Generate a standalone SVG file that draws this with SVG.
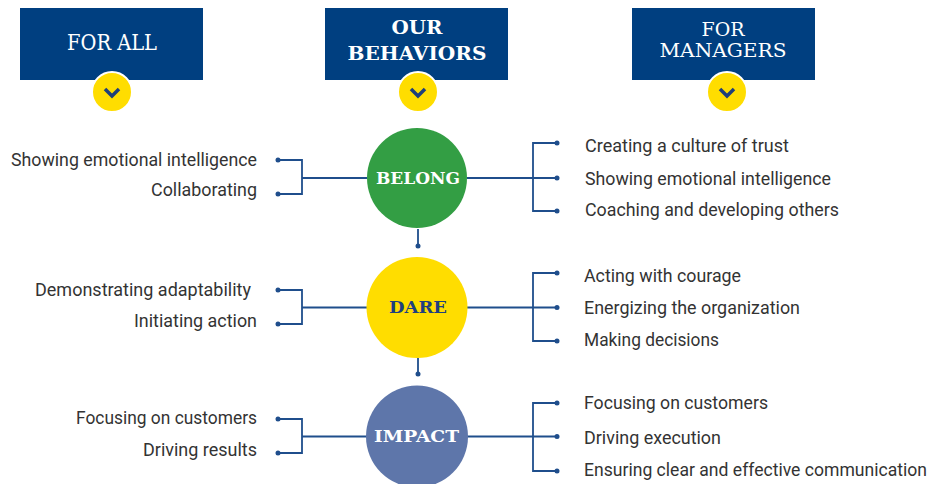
<svg xmlns="http://www.w3.org/2000/svg" width="936" height="484" viewBox="0 0 936 484">
<style>
.hdr{fill:#003f80}
.ht{font-family:"DejaVu Serif","Liberation Serif",serif;fill:#fff;text-anchor:middle}
.chev{fill:#ffdd00;stroke:#fff;stroke-width:2}
.chv{fill:none;stroke:#1f3f7a;stroke-width:3.5;stroke-linecap:butt}
.ct{font-family:"DejaVu Serif","Liberation Serif",serif;font-weight:bold;text-anchor:middle;font-size:17px}
.lt{font-family:Roboto,"Liberation Sans",sans-serif;font-size:19px;fill:#333}
.l{text-anchor:end}
.ln{fill:none;stroke:#1f4e8c;stroke-width:1.8}
.dot{fill:#1f4e8c}
</style>
<g id="hdr-forall">
<rect class="hdr" x="20" y="8" width="183" height="72"/>
<text class="ht" x="112" y="50" font-size="22" textLength="90" lengthAdjust="spacingAndGlyphs">FOR ALL</text>
<circle class="chev" cx="112" cy="92" r="20"/>
<polyline class="chv" points="105,89 112,96 119,89"/>
</g>
<g id="hdr-behaviors">
<rect class="hdr" x="325" y="8" width="183" height="72"/>
<text class="ht" x="417" y="34" font-size="19" font-weight="bold" textLength="51" lengthAdjust="spacingAndGlyphs">OUR</text>
<text class="ht" x="417" y="60" font-size="19" font-weight="bold" textLength="139" lengthAdjust="spacingAndGlyphs">BEHAVIORS</text>
<circle class="chev" cx="418" cy="92" r="20"/>
<polyline class="chv" points="411,89 418,96 425,89"/>
</g>
<g id="hdr-managers">
<rect class="hdr" x="632" y="8" width="183" height="72"/>
<text class="ht" x="723" y="36" font-size="19" textLength="43" lengthAdjust="spacingAndGlyphs">FOR</text>
<text class="ht" x="723" y="57" font-size="19" textLength="127" lengthAdjust="spacingAndGlyphs">MANAGERS</text>
<circle class="chev" cx="727" cy="92" r="20"/>
<polyline class="chv" points="720,89 727,96 734,89"/>
</g>
<g id="connectors">
<path class="ln" d="M278,160 H302 V194 H278 M302,178 H367 M467,178 H557 M557,143 H533 V211 H557 M418,229 V246"/>
<path class="ln" d="M278,290 H302 V324 H278 M302,307.5 H367 M467,307.5 H557 M557,273 H533 V341 H557 M418,358 V374"/>
<path class="ln" d="M278,419 H302 V453 H278 M302,436.5 H367 M467,436.5 H557 M557,403 H533 V471 H557"/>
<g class="dot">
<circle cx="278" cy="160" r="2.5"/><circle cx="278" cy="194" r="2.5"/>
<circle cx="557" cy="143" r="2.5"/><circle cx="557" cy="178" r="2.5"/><circle cx="557" cy="211" r="2.5"/>
<circle cx="418" cy="246" r="2.5"/>
<circle cx="278" cy="290" r="2.5"/><circle cx="278" cy="324" r="2.5"/>
<circle cx="557" cy="273" r="2.5"/><circle cx="557" cy="307.5" r="2.5"/><circle cx="557" cy="341" r="2.5"/>
<circle cx="418" cy="374" r="2.5"/>
<circle cx="278" cy="419" r="2.5"/><circle cx="278" cy="453" r="2.5"/>
<circle cx="557" cy="403" r="2.5"/><circle cx="557" cy="436.5" r="2.5"/><circle cx="557" cy="471" r="2.5"/>
</g>
</g>
<g id="belong">
<circle cx="417" cy="178" r="50" fill="#339e44"/>
<text class="ct" x="418" y="184" fill="#fff" textLength="84" lengthAdjust="spacingAndGlyphs">BELONG</text>
</g>
<g id="dare">
<circle cx="417" cy="307.5" r="50.5" fill="#ffdd00"/>
<text class="ct" x="418" y="313" fill="#1f3f7f" textLength="58" lengthAdjust="spacingAndGlyphs">DARE</text>
</g>
<g id="impact">
<circle cx="417" cy="436.5" r="51" fill="#5e76aa"/>
<text class="ct" x="416.5" y="442" fill="#fff" textLength="85" lengthAdjust="spacingAndGlyphs">IMPACT</text>
</g>
<g id="belong-all">
<text class="lt l" x="257" y="166" textLength="246" lengthAdjust="spacingAndGlyphs">Showing emotional intelligence</text>
<text class="lt l" x="257" y="196" textLength="106" lengthAdjust="spacingAndGlyphs">Collaborating</text>
</g>
<g id="belong-managers">
<text class="lt" x="585" y="152" textLength="204" lengthAdjust="spacingAndGlyphs">Creating a culture of trust</text>
<text class="lt" x="585" y="185" textLength="246" lengthAdjust="spacingAndGlyphs">Showing emotional intelligence</text>
<text class="lt" x="585" y="216" textLength="254" lengthAdjust="spacingAndGlyphs">Coaching and developing others</text>
</g>
<g id="dare-all">
<text class="lt l" x="251" y="296" textLength="216" lengthAdjust="spacingAndGlyphs">Demonstrating adaptability</text>
<text class="lt l" x="257" y="327" textLength="123" lengthAdjust="spacingAndGlyphs">Initiating action</text>
</g>
<g id="dare-managers">
<text class="lt" x="584" y="282" textLength="157" lengthAdjust="spacingAndGlyphs">Acting with courage</text>
<text class="lt" x="584" y="314" textLength="216" lengthAdjust="spacingAndGlyphs">Energizing the organization</text>
<text class="lt" x="584" y="346" textLength="135" lengthAdjust="spacingAndGlyphs">Making decisions</text>
</g>
<g id="impact-all">
<text class="lt l" x="257" y="424" textLength="181" lengthAdjust="spacingAndGlyphs">Focusing on customers</text>
<text class="lt l" x="257" y="456" textLength="114" lengthAdjust="spacingAndGlyphs">Driving results</text>
</g>
<g id="impact-managers">
<text class="lt" x="584" y="409" textLength="184" lengthAdjust="spacingAndGlyphs">Focusing on customers</text>
<text class="lt" x="584" y="444" textLength="137" lengthAdjust="spacingAndGlyphs">Driving execution</text>
<text class="lt" x="584" y="476" textLength="343" lengthAdjust="spacingAndGlyphs">Ensuring clear and effective communication</text>
</g>
</svg>
